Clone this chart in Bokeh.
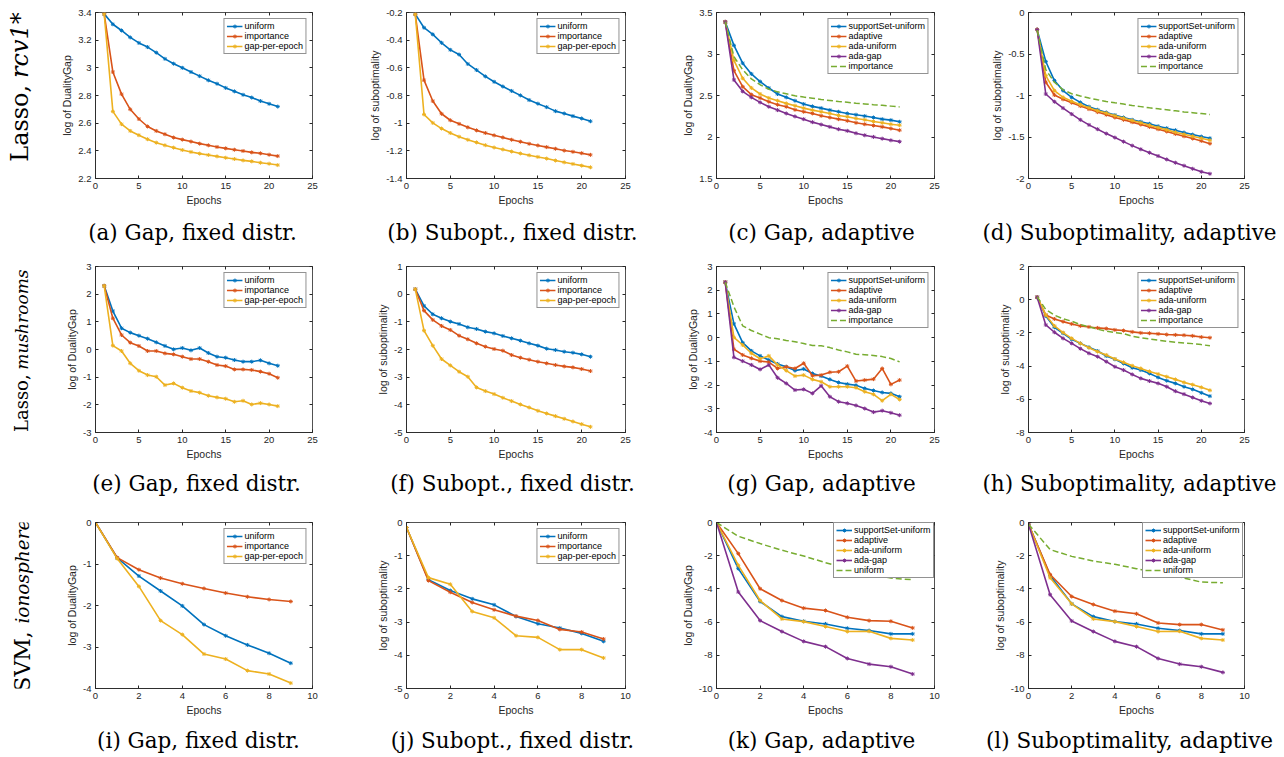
import math
from bokeh.plotting import figure
from bokeh.layouts import column, row
from bokeh.models import (Range1d, FixedTicker, NumeralTickFormatter, LinearAxis,
                          Legend, LegendItem)
from bokeh.core.properties import value
from bokeh.embed import file_html
from bokeh.resources import INLINE

# ---------------------------------------------------------------- data
epochs_long = list(range(1, 22))
epochs_short = list(range(0, 10))
x_ticks_long = [0, 5, 10, 15, 20, 25]
x_ticks_short = [0, 2, 4, 6, 8, 10]

# (a) Lasso rcv1*, gap, fixed distributions
a_uniform = [3.39, 3.315, 3.27, 3.22, 3.18, 3.15, 3.11, 3.065, 3.03, 3.0, 2.97, 2.94, 2.91, 2.885, 2.855, 2.83, 2.805, 2.785, 2.76, 2.74, 2.72]
a_importance = [3.39, 2.97, 2.81, 2.70, 2.63, 2.576, 2.544, 2.52, 2.496, 2.481, 2.467, 2.452, 2.44, 2.428, 2.418, 2.408, 2.399, 2.389, 2.382, 2.372, 2.362]
a_gap = [3.39, 2.685, 2.593, 2.544, 2.513, 2.484, 2.459, 2.44, 2.423, 2.406, 2.392, 2.38, 2.37, 2.36, 2.35, 2.341, 2.331, 2.324, 2.314, 2.307, 2.297]
a_yticks = [2.2, 2.4, 2.6, 2.8, 3.0, 3.2, 3.4]

# (b) Lasso rcv1*, suboptimality, fixed
b_uniform = [-0.212, -0.31, -0.358, -0.419, -0.47, -0.504, -0.572, -0.616, -0.662, -0.701, -0.735, -0.767, -0.799, -0.833, -0.859, -0.884, -0.913, -0.93, -0.949, -0.966, -0.986]
b_importance = [-0.212, -0.689, -0.84, -0.932, -0.979, -1.005, -1.03, -1.052, -1.071, -1.088, -1.103, -1.12, -1.134, -1.149, -1.161, -1.173, -1.185, -1.198, -1.207, -1.217, -1.229]
b_gap = [-0.212, -0.937, -0.998, -1.039, -1.071, -1.098, -1.12, -1.139, -1.159, -1.176, -1.19, -1.205, -1.219, -1.232, -1.244, -1.256, -1.27, -1.283, -1.295, -1.307, -1.319]
b_yticks = [-1.4, -1.2, -1.0, -0.8, -0.6, -0.4, -0.2]

# (c) Lasso rcv1*, gap, adaptive
c_support = [3.387, 3.104, 2.89, 2.76, 2.668, 2.59, 2.518, 2.478, 2.437, 2.397, 2.369, 2.348, 2.324, 2.304, 2.284, 2.268, 2.252, 2.235, 2.215, 2.203, 2.183]
c_adaptive = [3.387, 2.80, 2.607, 2.51, 2.47, 2.425, 2.389, 2.365, 2.328, 2.304, 2.284, 2.255, 2.235, 2.215, 2.195, 2.171, 2.154, 2.138, 2.122, 2.102, 2.082]
c_ada_uniform = [3.387, 2.922, 2.708, 2.591, 2.518, 2.47, 2.437, 2.405, 2.377, 2.348, 2.324, 2.304, 2.284, 2.26, 2.244, 2.223, 2.207, 2.187, 2.171, 2.154, 2.142]
c_ada_gap = [3.387, 2.688, 2.55, 2.478, 2.417, 2.365, 2.324, 2.284, 2.248, 2.215, 2.179, 2.15, 2.122, 2.094, 2.074, 2.045, 2.021, 2.001, 1.98, 1.96, 1.944]
c_importance = [3.39, 2.97, 2.81, 2.70, 2.63, 2.576, 2.544, 2.52, 2.496, 2.481, 2.467, 2.452, 2.44, 2.428, 2.418, 2.408, 2.399, 2.389, 2.382, 2.372, 2.362]
c_yticks = [1.5, 2.0, 2.5, 3.0, 3.5]

# (d) Lasso rcv1*, suboptimality, adaptive
d_support = [-0.206, -0.59, -0.82, -0.941, -1.022, -1.083, -1.135, -1.172, -1.204, -1.236, -1.265, -1.293, -1.317, -1.341, -1.37, -1.394, -1.418, -1.446, -1.471, -1.495, -1.515]
d_adaptive = [-0.206, -0.84, -0.994, -1.046, -1.087, -1.127, -1.164, -1.2, -1.232, -1.265, -1.293, -1.321, -1.35, -1.378, -1.406, -1.434, -1.463, -1.491, -1.519, -1.547, -1.58]
d_ada_uniform = [-0.206, -0.76, -0.941, -1.022, -1.07, -1.111, -1.147, -1.184, -1.212, -1.244, -1.273, -1.301, -1.329, -1.358, -1.386, -1.414, -1.442, -1.467, -1.491, -1.515, -1.539]
d_ada_gap = [-0.206, -0.982, -1.075, -1.152, -1.224, -1.293, -1.354, -1.406, -1.459, -1.507, -1.556, -1.604, -1.648, -1.689, -1.729, -1.77, -1.81, -1.846, -1.883, -1.919, -1.943]
d_importance = [-0.212, -0.689, -0.84, -0.932, -0.979, -1.005, -1.03, -1.052, -1.071, -1.088, -1.103, -1.12, -1.134, -1.149, -1.161, -1.173, -1.185, -1.198, -1.207, -1.217, -1.229]
d_yticks = [-2.0, -1.5, -1.0, -0.5, 0.0]

# (e) Lasso mushrooms, gap, fixed
e_uniform = [2.30, 1.39, 0.77, 0.61, 0.50, 0.39, 0.26, 0.13, 0.006, 0.054, -0.03, 0.054, -0.127, -0.26, -0.296, -0.38, -0.44, -0.44, -0.39, -0.50, -0.586]
e_importance = [2.30, 1.13, 0.525, 0.247, 0.127, -0.054, -0.054, -0.139, -0.175, -0.26, -0.344, -0.344, -0.44, -0.56, -0.6, -0.72, -0.72, -0.74, -0.80, -0.875, -1.02]
e_gap = [2.30, 0.14, -0.054, -0.5, -0.767, -0.924, -0.984, -1.286, -1.225, -1.38, -1.50, -1.56, -1.67, -1.73, -1.78, -1.89, -1.853, -1.986, -1.938, -1.986, -2.047]
e_yticks = [-3, -2, -1, 0, 1, 2, 3]

# (f) Lasso mushrooms, suboptimality, fixed
f_uniform = [0.18, -0.425, -0.726, -0.871, -0.992, -1.077, -1.197, -1.258, -1.354, -1.415, -1.511, -1.596, -1.68, -1.777, -1.86, -1.97, -2.018, -2.079, -2.115, -2.175, -2.26]
f_importance = [0.18, -0.594, -0.93, -1.149, -1.293, -1.5, -1.63, -1.777, -1.897, -1.982, -2.042, -2.2, -2.296, -2.368, -2.44, -2.5, -2.56, -2.61, -2.646, -2.706, -2.778]
f_gap = [0.18, -1.318, -1.861, -2.344, -2.574, -2.803, -2.984, -3.37, -3.503, -3.612, -3.745, -3.865, -3.986, -4.095, -4.215, -4.312, -4.408, -4.505, -4.601, -4.698, -4.795]
f_yticks = [-5, -4, -3, -2, -1, 0, 1]

# (g) Lasso mushrooms, gap, adaptive
g_support = [2.34, 0.58, -0.21, -0.56, -0.77, -0.94, -1.11, -1.23, -1.39, -1.32, -1.51, -1.62, -1.76, -1.89, -1.96, -2.01, -2.14, -2.23, -2.31, -2.35, -2.49]
g_adaptive = [2.34, -0.49, -0.73, -0.87, -0.99, -1.03, -1.30, -1.23, -1.30, -1.08, -1.61, -1.58, -1.46, -1.44, -1.20, -1.83, -1.79, -1.75, -1.30, -1.97, -1.79]
g_ada_uniform = [2.34, 0.01, -0.31, -0.66, -0.89, -0.77, -1.15, -1.39, -1.62, -1.58, -1.76, -1.86, -2.07, -2.07, -2.07, -2.11, -2.28, -2.39, -2.66, -2.39, -2.61]
g_ada_gap = [2.34, -0.83, -0.99, -1.15, -1.34, -1.15, -1.69, -1.93, -2.21, -2.18, -2.35, -2.03, -2.49, -2.70, -2.77, -2.86, -2.99, -3.14, -3.08, -3.17, -3.27]
g_importance = [2.34, 1.30, 0.50, 0.30, 0.15, 0.0, -0.05, -0.12, -0.17, -0.25, -0.33, -0.34, -0.42, -0.52, -0.60, -0.70, -0.72, -0.75, -0.80, -0.88, -1.02]
g_yticks = [-4, -3, -2, -1, 0, 1, 2, 3]

# (h) Lasso mushrooms, suboptimality, adaptive
h_support = [0.15, -0.98, -1.66, -2.02, -2.39, -2.63, -2.87, -3.09, -3.39, -3.59, -3.84, -4.10, -4.24, -4.44, -4.68, -4.88, -5.04, -5.24, -5.40, -5.61, -5.81]
h_adaptive = [0.15, -0.92, -1.16, -1.32, -1.46, -1.58, -1.64, -1.70, -1.74, -1.82, -1.86, -1.94, -2.0, -2.02, -2.06, -2.10, -2.12, -2.14, -2.18, -2.25, -2.29]
h_ada_uniform = [0.15, -0.92, -1.58, -1.98, -2.33, -2.63, -2.89, -3.13, -3.33, -3.57, -3.77, -3.98, -4.14, -4.32, -4.48, -4.64, -4.80, -4.98, -5.12, -5.28, -5.46]
h_ada_gap = [0.15, -1.52, -1.96, -2.33, -2.63, -2.95, -3.23, -3.43, -3.73, -4.04, -4.24, -4.50, -4.74, -4.90, -5.04, -5.24, -5.51, -5.69, -5.89, -6.09, -6.25]
h_importance = [0.18, -0.594, -0.93, -1.149, -1.293, -1.5, -1.63, -1.777, -1.897, -1.982, -2.042, -2.2, -2.296, -2.368, -2.44, -2.5, -2.56, -2.61, -2.646, -2.706, -2.778]
h_yticks = [-8, -6, -4, -2, 0, 2]

# (i) SVM ionosphere, gap, fixed
i_uniform = [0, -0.855, -1.29, -1.65, -2.01, -2.46, -2.73, -2.95, -3.15, -3.39]
i_importance = [0, -0.847, -1.137, -1.339, -1.476, -1.589, -1.70, -1.79, -1.855, -1.903]
i_gap = [0, -0.87, -1.54, -2.363, -2.70, -3.17, -3.29, -3.57, -3.65, -3.87]
i_yticks = [-4, -3, -2, -1, 0]

# (j) SVM ionosphere, suboptimality, fixed
j_uniform = [-0.15, -1.72, -2.05, -2.30, -2.48, -2.83, -3.05, -3.18, -3.34, -3.58]
j_importance = [-0.15, -1.75, -2.10, -2.41, -2.63, -2.82, -2.95, -3.22, -3.30, -3.51]
j_gap = [-0.15, -1.66, -1.86, -2.68, -2.87, -3.41, -3.46, -3.83, -3.83, -4.08]
j_yticks = [-5, -4, -3, -2, -1, 0]

# (k) SVM ionosphere, gap, adaptive
k_support = [0, -2.78, -4.76, -5.67, -5.95, -6.11, -6.37, -6.51, -6.71, -6.71]
k_adaptive = [0, -1.875, -3.99, -4.70, -5.16, -5.30, -5.71, -5.91, -5.95, -6.35]
k_ada_uniform = [0, -2.58, -4.70, -5.81, -5.97, -6.27, -6.57, -6.55, -6.98, -7.08]
k_ada_gap = [0, -4.19, -5.91, -6.57, -7.16, -7.48, -8.19, -8.53, -8.69, -9.13]
k_uniform = [0, -0.83, -1.27, -1.67, -2.02, -2.42, -2.78, -3.04, -3.35, -3.45]
k_yticks = [-10, -8, -6, -4, -2, 0]

# (l) SVM ionosphere, suboptimality, adaptive
l_support = [-0.1, -3.19, -4.90, -5.67, -5.97, -6.11, -6.37, -6.51, -6.71, -6.71]
l_adaptive = [-0.1, -3.13, -4.46, -4.94, -5.34, -5.50, -6.05, -6.15, -6.15, -6.47]
l_ada_uniform = [-0.1, -3.33, -4.90, -5.81, -5.97, -6.27, -6.57, -6.55, -6.98, -7.08]
l_ada_gap = [-0.1, -4.35, -5.93, -6.57, -7.16, -7.48, -8.19, -8.53, -8.69, -9.03]
l_uniform = [-0.1, -1.63, -2.04, -2.32, -2.52, -2.78, -3.04, -3.29, -3.59, -3.63]
l_yticks = [-10, -8, -6, -4, -2, 0]

row_labels = [("Lasso,", "rcv1*"), ("Lasso,", "mushrooms"), ("SVM,", "ionosphere")]
captions = [
    ["(a) Gap, fixed distr.", "(b) Subopt., fixed distr.", "(c) Gap, adaptive", "(d) Suboptimality, adaptive"],
    ["(e) Gap, fixed distr.", "(f) Subopt., fixed distr.", "(g) Gap, adaptive", "(h) Suboptimality, adaptive"],
    ["(i) Gap, fixed distr.", "(j) Subopt., fixed distr.", "(k) Gap, adaptive", "(l) Suboptimality, adaptive"],
]

# ---------------------------------------------------------------- style
BLUE, ORANGE, YELLOW, PURPLE, GREEN = "#0072BD", "#D95319", "#EDB120", "#7E2F8E", "#77AC30"
INK = "#262626"
SANS = "Liberation Sans"
SERIF = "DejaVu Serif"
GAP_Y = "log of DualityGap"
SUB_Y = "log of suboptimality"

COL_W = [311, 311, 311, 302]
COL_L = [47, 47, 46, 47]
COL_R = [47, 45, 47, 39]
FRAME_H = 166
LABEL_W = 48
PAGE_W = LABEL_W + sum(COL_W)


def fixed(u, imp, gap):
    return [("uniform", u, BLUE, False), ("importance", imp, ORANGE, False),
            ("gap-per-epoch", gap, YELLOW, False)]


def adapt(s, a, au, ag, last_name, last):
    return [("supportSet-uniform", s, BLUE, False), ("adaptive", a, ORANGE, False),
            ("ada-uniform", au, YELLOW, False), ("ada-gap", ag, PURPLE, False),
            (last_name, last, GREEN, True)]


L = dict(x=epochs_long, xr=(0, 25), xticks=x_ticks_long)
S = dict(x=epochs_short, xr=(0, 10), xticks=x_ticks_short)

panels = [
    [dict(L, ylabel=GAP_Y, yr=(2.2, 3.4), yticks=a_yticks, series=fixed(a_uniform, a_importance, a_gap), leg="top_right"),
     dict(L, ylabel=SUB_Y, yr=(-1.4, -0.2), yticks=b_yticks, series=fixed(b_uniform, b_importance, b_gap), leg="top_right"),
     dict(L, ylabel=GAP_Y, yr=(1.5, 3.5), yticks=c_yticks, series=adapt(c_support, c_adaptive, c_ada_uniform, c_ada_gap, "importance", c_importance), leg="top_right"),
     dict(L, ylabel=SUB_Y, yr=(-2.0, 0.0), yticks=d_yticks, series=adapt(d_support, d_adaptive, d_ada_uniform, d_ada_gap, "importance", d_importance), leg="top_right")],
    [dict(L, ylabel=GAP_Y, yr=(-3, 3), yticks=e_yticks, series=fixed(e_uniform, e_importance, e_gap), leg="top_right"),
     dict(L, ylabel=SUB_Y, yr=(-5, 1), yticks=f_yticks, series=fixed(f_uniform, f_importance, f_gap), leg="top_right"),
     dict(L, ylabel=GAP_Y, yr=(-4, 3), yticks=g_yticks, series=adapt(g_support, g_adaptive, g_ada_uniform, g_ada_gap, "importance", g_importance), leg="top_right"),
     dict(L, ylabel=SUB_Y, yr=(-8, 2), yticks=h_yticks, series=adapt(h_support, h_adaptive, h_ada_uniform, h_ada_gap, "importance", h_importance), leg="top_right")],
    [dict(S, ylabel=GAP_Y, yr=(-4, 0), yticks=i_yticks, series=fixed(i_uniform, i_importance, i_gap), leg="top_right"),
     dict(S, ylabel=SUB_Y, yr=(-5, 0), yticks=j_yticks, series=fixed(j_uniform, j_importance, j_gap), leg="top_right"),
     dict(S, ylabel=GAP_Y, yr=(-10, 0), yticks=k_yticks, series=adapt(k_support, k_adaptive, k_ada_uniform, k_ada_gap, "uniform", k_uniform), leg=(117, 110)),
     dict(S, ylabel=SUB_Y, yr=(-10, 0), yticks=l_yticks, series=adapt(l_support, l_adaptive, l_ada_uniform, l_ada_gap, "uniform", l_uniform), leg=(114, 110))],
]

# per-row layout in page pixels (page origin at the top-left corner)
ROWS = [
    dict(top=0, h=218, tb=12, cap_h=40, cap_y=232, cap_x=[192, 512, 821, 1129],
         lab_x=19, roman_fs="24px", italic_fs="24px", roman_end=95, italic_start=86),
    dict(top=258, h=214, tb=8, cap_h=36, cap_y=483, cap_x=[196, 512, 821, 1129],
         lab_x=21, roman_fs="18px", italic_fs="17px", roman_end=397, italic_start=391),
    dict(top=508, h=220, tb=14, cap_h=28, cap_y=740, cap_x=[198, 512, 821, 1129],
         lab_x=22, roman_fs="22px", italic_fs="18.5px", roman_end=652, italic_start=642),
]


def style_axis(ax):
    ax.major_tick_in = 3
    ax.major_tick_out = 0
    ax.minor_tick_in = 0
    ax.minor_tick_out = 0
    ax.axis_line_color = INK
    ax.axis_line_width = 0.8
    ax.major_tick_line_color = INK
    ax.major_label_text_font = SANS
    ax.major_label_text_font_size = "9.5px"
    ax.major_label_text_color = INK
    ax.axis_label_text_font = SANS
    ax.axis_label_text_font_size = "10.5px"
    ax.axis_label_text_font_style = "normal"
    ax.axis_label_text_color = INK
    ax.major_label_standoff = 4
    ax.axis_label_standoff = 2
    ax.formatter = NumeralTickFormatter(format="0.[0]")


def make_panel(spec, col, rspec):
    h, tb = rspec["h"], rspec["tb"]
    p = figure(width=COL_W[col], height=h,
               x_range=Range1d(*spec["xr"]), y_range=Range1d(*spec["yr"]),
               min_border_left=COL_L[col], min_border_right=COL_R[col],
               min_border_top=tb, min_border_bottom=h - tb - FRAME_H,
               toolbar_location=None, output_backend="svg",
               background_fill_color="white", border_fill_color="white",
               outline_line_color=INK, outline_line_width=0.8)
    p.xgrid.visible = False
    p.ygrid.visible = False
    p.xaxis.axis_label = "Epochs"
    p.yaxis.axis_label = spec["ylabel"]
    p.xaxis.ticker = FixedTicker(ticks=spec["xticks"])
    p.yaxis.ticker = FixedTicker(ticks=spec["yticks"])
    style_axis(p.xaxis[0])
    style_axis(p.yaxis[0])
    # MATLAB-style inner ticks on the top and right edges of the box
    for loc, ticks in (("above", spec["xticks"]), ("right", spec["yticks"])):
        ax = LinearAxis(ticker=FixedTicker(ticks=ticks), major_label_text_font_size="0px",
                        major_label_text_color=None,
                        major_label_standoff=0, major_tick_in=3, major_tick_out=0,
                        minor_tick_in=0, minor_tick_out=0, axis_line_color=None,
                        major_tick_line_color=INK)
        p.add_layout(ax, loc)

    items = []
    xs = spec["x"]
    for name, ys, color, dashed in spec["series"]:
        if dashed:
            r = p.line(xs, ys, line_color=color, line_width=1.5, line_dash="6 3")
            items.append(LegendItem(label=name, renderers=[r]))
        else:
            r = p.line(xs, ys, line_color=color, line_width=1.6)
            s = p.scatter(xs, ys, marker="asterisk", size=4, line_color=color, line_width=1)
            items.append(LegendItem(label=name, renderers=[r, s]))
    leg = Legend(items=items, location=spec["leg"], margin=6,
                 label_text_font=SANS, label_text_font_size="9px", label_text_color="black",
                 glyph_width=16, glyph_height=10, label_height=10, label_standoff=2,
                 spacing=0, padding=2, border_line_color=INK, border_line_width=0.6,
                 background_fill_color="white", background_fill_alpha=1.0)
    p.add_layout(leg)
    return p


def blank_fig(width, height, x0, x1, top, bottom):
    p = figure(width=width, height=height,
               x_range=Range1d(x0, x1), y_range=Range1d(bottom, top),
               min_border=0, x_axis_location=None, y_axis_location=None,
               outline_line_color=None, toolbar_location=None, output_backend="svg",
               background_fill_color="white", border_fill_color="white")
    p.grid.visible = False
    return p


def make_label(r, rspec):
    top, h = rspec["top"], rspec["h"]
    p = blank_fig(LABEL_W, h, 0, LABEL_W, top, top + h)
    roman, italic = row_labels[r]
    # text reads bottom-to-top: roman part ends where the italic part begins
    p.text(x=[rspec["lab_x"]], y=[rspec["roman_end"]], text=[roman], angle=math.pi / 2,
           text_align="right", text_baseline="middle", text_font=value(SERIF),
           text_font_size=rspec["roman_fs"], text_color="black")
    p.text(x=[rspec["lab_x"]], y=[rspec["italic_start"]], text=[italic], angle=math.pi / 2,
           text_align="left", text_baseline="middle", text_font=value(SERIF),
           text_font_style="italic", text_font_size=rspec["italic_fs"], text_color="black")
    return p


def make_caption(r, rspec):
    top = rspec["top"] + rspec["h"]
    hh = rspec["cap_h"]
    p = blank_fig(PAGE_W, hh, 0, PAGE_W, top, top + hh)
    p.text(x=rspec["cap_x"], y=[rspec["cap_y"]] * 4, text=captions[r],
           text_align="center", text_baseline="middle", text_font=value(SERIF),
           text_font_size="21.5px", text_color="black")
    return p


blocks = []
for r, rspec in enumerate(ROWS):
    figs = [make_label(r, rspec)] + [make_panel(spec, c, rspec) for c, spec in enumerate(panels[r])]
    blocks.append(row(*figs))
    blocks.append(make_caption(r, rspec))

layout = column(*blocks)
open("out.html", "w").write(file_html(layout, INLINE, "Convergence plots"))
